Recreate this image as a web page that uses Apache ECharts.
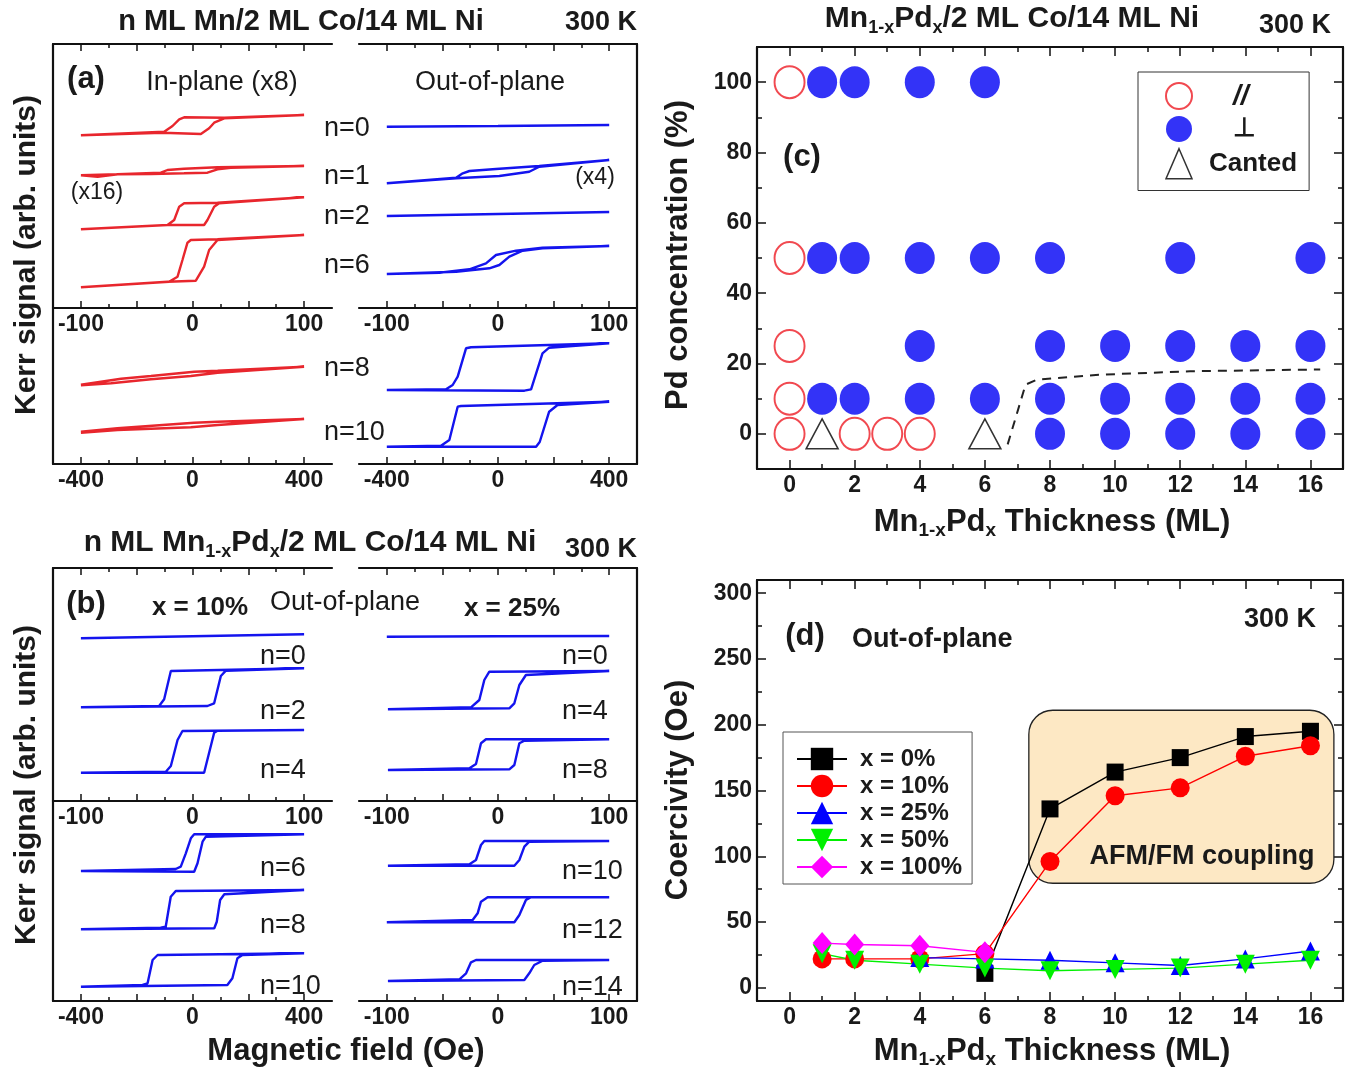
<!DOCTYPE html>
<html>
<head>
<meta charset="utf-8">
<title>Mn/Co/Ni MOKE</title>
<script src="https://cdn.jsdelivr.net/npm/echarts@6/dist/echarts.min.js"></script>
<style>
  html, body { margin: 0; padding: 0; background: #fff; }
  #main { width: 1359px; height: 1070px; }
</style>
</head>
<body>
<div id="main"></div>
<script>
// ---------- data ----------
// hysteresis loops: [field (Oe), Kerr signal (arb. units, stacked)]
// panel (a) in-plane, n ML Mn
var aIn0 = [[-100,172.7],[-26.9,175.3],[7.5,174],[14.9,179.7],[19.4,185.3],[28.4,189.7],[100,193],[28.4,190.3],[-7.5,190.7],[-11.9,188.7],[-17.9,182],[-25.4,176.3],[-100,172.7]];
var aIn1 = [[-100,132.7],[-85,131.3],[-67,133.7],[-37,134],[-7.5,134.7],[13.4,135.3],[22.4,138.7],[34.3,140.3],[100,142],[22.4,140.7],[-7.5,139.3],[-22.4,138],[-28.4,135.3],[-67,133.7],[-100,132.7]];
var aIn2 = [[-100,78.7],[-22.4,83],[10.4,83],[13.4,88],[19.4,101.3],[23.9,104.7],[100,110.7],[22.4,105.3],[-7.5,104.7],[-11.9,101.3],[-16.4,88],[-22.4,83],[-100,78.7]];
var aIn6 = [[-100,20.7],[-22.4,26.3],[3,27.3],[10.4,41.3],[14.9,58],[22.4,68],[100,73],[22.4,68.7],[-1.5,68],[-4.5,65.3],[-9,48],[-13.4,31.3],[-21,26.3],[-100,20.7]];
var aIn8 = [[-400,78.7],[-292,80.7],[-149,84.7],[-6,88],[90,91.3],[400,97.3],[90,93.3],[6,92.3],[-149,88],[-256,85.3],[-400,79.3]];
var aIn10 = [[-400,31.3],[-269,34],[-6,36.7],[90,39],[400,45],[90,42.3],[6,41.3],[-269,35.7],[-400,32.3]];
// panel (a) out-of-plane
var aOut0 = [[-100,181.3],[0,182],[100,183]];
var aOut1 = [[-100,124.7],[-37.7,129.7],[1.2,132],[28.1,136.3],[37.1,141.3],[100,148],[37.1,142],[-1.8,139],[-25.7,137],[-31.7,134.7],[-37.7,130.3],[-100,124.7]];
var aOut2 = [[-100,92],[0,94],[100,96]];
var aOut6 = [[-100,34],[-37.7,36.3],[-7.8,39.7],[1.2,43],[10.2,51.3],[22.2,57.3],[40.1,59.7],[100,62],[40,60.3],[16.2,57.3],[-1.8,53],[-10.8,44.7],[-25.7,38.7],[-52.7,35.3],[-100,34]];
var aOut8 = [[-400,74],[95,73.3],[119,74.7],[160,110.7],[184,116.3],[400,120.7],[-97,116.7],[-115,115.7],[-145,87.3],[-163,79],[-187,74.7],[-400,74]];
var aOut10 = [[-400,17.3],[137,17.3],[150,22],[184,52.3],[214,59],[400,62.3],[-133,58],[-145,57.3],[-175,24],[-205,18.3],[-400,17.3]];
// panel (b) x = 10 %
var b10n0 = [[-100,162.7],[0,164.7],[100,166.7]];
var b10n2 = [[-100,93.7],[13.4,95],[19.4,97.7],[25.4,125],[29.9,130.3],[100,132.7],[-19.4,130],[-25.4,101.7],[-29.9,95],[-100,93.7]];
var b10n4 = [[-100,28.3],[10.4,28.3],[19.4,68.3],[22.4,70.3],[100,71],[-9,70],[-13.4,61],[-19.4,35],[-23.9,29.3],[-100,28.3]];
var b10n6 = [[-400,130],[6,129.3],[18,137.7],[36,159.3],[48,164.3],[400,166.7],[6,166.7],[-6,162.7],[-24,147.7],[-42,134.3],[-60,132],[-400,130]];
var b10n8 = [[-400,71.7],[78,72.7],[87,79.3],[99,101],[114,106.7],[400,111],[-60,110],[-78,104.3],[-96,74.3],[-114,73.3],[-400,71.7]];
var b10n10 = [[-400,14.3],[125,16],[143,22.7],[161,42.7],[179,46],[400,47.7],[-125,46],[-143,41],[-161,17.7],[-179,16],[-400,14.3]];
// panel (b) x = 25 %
var b25n0 = [[-100,164.3],[0,164.7],[100,165]];
var b25n4 = [[-99,91.7],[10.2,92.7],[14.7,97.7],[19.2,116],[25.1,126],[100,130],[-7.8,129.3],[-12.3,121],[-16.8,101],[-24.3,93.7],[-99,91.7]];
var b25n8 = [[-99,31],[10.2,31.7],[14.7,36],[19.2,57.7],[23.7,60.3],[100,61.7],[-10.8,61.7],[-15.3,57.7],[-19.8,37],[-25.7,32.7],[-99,31]];
var b25n10 = [[-99,135.3],[14.7,135.3],[19.2,141],[23.7,154.3],[28.1,159.3],[100,160],[-12.3,160],[-15.3,156],[-19.8,141],[-25.7,136.7],[-99,135.3]];
var b25n12 = [[-100,78.7],[14.7,78.7],[19.2,86],[25.1,101],[29.6,103.7],[100,103.7],[-9.3,103.7],[-15.3,99.3],[-18.3,87.7],[-22.8,81],[-100,78.7]];
var b25n14 = [[-99,20],[23.7,21],[28.1,27.7],[32.6,36],[40.1,40.3],[100,41],[-19.8,41],[-24.3,38.7],[-28.7,27.7],[-34.7,21.7],[-99,20]];

// panel (c): [thickness (ML), Pd concentration (%)]
var cInPlane = [[0,100],[0,50],[0,25],[0,10],[0,0],[2,0],[3,0],[4,0]];
var cPerp = [[1,100],[2,100],[4,100],[6,100],
  [1,50],[2,50],[4,50],[6,50],[8,50],[12,50],[16,50],
  [4,25],[8,25],[10,25],[12,25],[14,25],[16,25],
  [1,10],[2,10],[4,10],[6,10],[8,10],[10,10],[12,10],[14,10],[16,10],
  [8,0],[10,0],[12,0],[14,0],[16,0]];
var cCanted = [[1,0],[6,0]];
var cBoundary = [[6.7,-3],[7.25,14],[7.6,15.4],[9.5,16.8],[12.3,17.8],[16.3,18.3]];

// panel (d): [thickness (ML), coercivity (Oe)]
var dX0 = [[6,11],[8,136],[10,164],[12,175],[14,191],[16,195]];
var dX10 = [[1,22],[2,22],[4,22],[6,26],[8,96],[10,146],[12,152],[14,176],[16,184]];
var dX25 = [[4,23],[6,22],[8,21],[10,19],[12,17],[14,22],[16,28]];
var dX50 = [[1,26],[2,21],[4,18],[6,15],[8,13],[10,14],[12,15],[14,18],[16,21]];
var dX100 = [[1,34],[2,33],[4,32],[6,27]];

// tick values
var t100Major = [-100,-50,0,50,100], t100Minor = [-75,-25,25,75], t100Lab = [-100,0,100];
var t400Major = [-400,-200,0,200,400], t400Minor = [-300,-100,100,300], t400Lab = [-400,0,400];
var thickMajor = [0,2,4,6,8,10,12,14,16], thickMinor = [1,3,5,7,9,11,13,15];
var pdMajor = [0,20,40,60,80,100], pdMinor = [10,30,50,70,90];
var hcMajor = [0,50,100,150,200,250,300], hcMinor = [25,75,125,175,225,275];

// ---------- layout helpers ----------
var NAR = '"Liberation Sans Narrow","Arial Narrow","Liberation Sans",Arial,sans-serif';
var SANS = '"Liberation Sans",Arial,Helvetica,sans-serif';
var INK = '#1a1a1a';
var RED = '#e8262d', BLUE = '#1414ee';

var grids = [], xAxes = [], yAxes = [], series = [];
var lineS = { color: '#111', width: 2.2 };
var labS = { fontFamily: NAR, fontWeight: 'bold', fontSize: 23, color: INK };

function tickAxis(g, pos, r, vals, len, labels, showLine) {
    return {
        type: 'value', gridIndex: g, position: pos, min: r[0], max: r[1],
        axisLine: { show: !!showLine, onZero: false, lineStyle: lineS },
        axisTick: { show: vals.length > 0, inside: true, length: len, customValues: vals,
                    lineStyle: { color: '#111', width: 1.5 } },
        axisLabel: Object.assign({ show: !!labels, customValues: labels || [], margin: 5 }, labS),
        splitLine: { show: false }
    };
}

function loopGrid(rect, xr, yr, major, minor, labels, side, topEdge) {
    var g = grids.length;
    grids.push({ left: rect[0], top: rect[1], width: rect[2], height: rect[3], outerBoundsMode: 'none' });
    var xi = xAxes.length;
    xAxes.push(tickAxis(g, 'bottom', xr, major, 7, labels, true));
    xAxes.push(tickAxis(g, 'bottom', xr, minor, 4, null, false));
    if (topEdge) {
        xAxes.push(tickAxis(g, 'top', xr, major, 7, null, true));
        xAxes.push(tickAxis(g, 'top', xr, minor, 4, null, false));
    }
    var yi = yAxes.length;
    yAxes.push(tickAxis(g, side, yr, [], 0, null, true));
    return { x: xi, y: yi };
}

function boxGrid(rect, xr, xMaj, xMin, yr, yMaj, yMin) {
    var g = grids.length;
    grids.push({ left: rect[0], top: rect[1], width: rect[2], height: rect[3], outerBoundsMode: 'none' });
    var xi = xAxes.length, yi = yAxes.length;
    xAxes.push(tickAxis(g, 'bottom', xr, xMaj, 9, xMaj, true));
    xAxes.push(tickAxis(g, 'bottom', xr, xMin, 5, null, false));
    xAxes.push(tickAxis(g, 'top', xr, xMaj, 9, null, true));
    xAxes.push(tickAxis(g, 'top', xr, xMin, 5, null, false));
    yAxes.push(tickAxis(g, 'left', yr, yMaj, 9, yMaj, true));
    yAxes.push(tickAxis(g, 'left', yr, yMin, 5, null, false));
    yAxes.push(tickAxis(g, 'right', yr, yMaj, 9, null, true));
    yAxes.push(tickAxis(g, 'right', yr, yMin, 5, null, false));
    return { x: xi, y: yi };
}

function loop(ax, data, color) {
    series.push({ type: 'line', xAxisIndex: ax.x, yAxisIndex: ax.y, data: data, symbol: 'none',
                  lineStyle: { color: color, width: 2.4 }, silent: true, z: 3 });
}

// ---------- panel (a) ----------
var r125 = [-125, 125], r500 = [-500, 500];
var gA1 = loopGrid([53, 44, 279, 264], r125, [0, 264], t100Major, t100Minor, t100Lab, 'left', true);
var gA2 = loopGrid([359, 44, 278, 264], r125, [0, 264], t100Major, t100Minor, t100Lab, 'right', true);
var gA3 = loopGrid([53, 308, 279, 156], r500, [0, 156], t400Major, t400Minor, t400Lab, 'left', false);
var gA4 = loopGrid([359, 308, 278, 156], r500, [0, 156], t400Major, t400Minor, t400Lab, 'right', false);
[aIn0, aIn1, aIn2, aIn6].forEach(function (d) { loop(gA1, d, RED); });
[aOut0, aOut1, aOut2, aOut6].forEach(function (d) { loop(gA2, d, BLUE); });
[aIn8, aIn10].forEach(function (d) { loop(gA3, d, RED); });
[aOut8, aOut10].forEach(function (d) { loop(gA4, d, BLUE); });

// ---------- panel (b) ----------
var gB1 = loopGrid([53, 568, 279, 233], r125, [0, 233], t100Major, t100Minor, t100Lab, 'left', true);
var gB2 = loopGrid([359, 568, 278, 233], r125, [0, 233], t100Major, t100Minor, t100Lab, 'right', true);
var gB3 = loopGrid([53, 801, 279, 200], r500, [0, 200], t400Major, t400Minor, t400Lab, 'left', false);
var gB4 = loopGrid([359, 801, 278, 200], r125, [0, 200], t100Major, t100Minor, t100Lab, 'right', false);
[b10n0, b10n2, b10n4].forEach(function (d) { loop(gB1, d, BLUE); });
[b25n0, b25n4, b25n8].forEach(function (d) { loop(gB2, d, BLUE); });
[b10n6, b10n8, b10n10].forEach(function (d) { loop(gB3, d, BLUE); });
[b25n10, b25n12, b25n14].forEach(function (d) { loop(gB4, d, BLUE); });

// ---------- panel (c) ----------
var gC = boxGrid([757, 47, 586, 422], [-1, 17], thickMajor, thickMinor, [-10, 110], pdMajor, pdMinor);
series.push({ name: '//', type: 'scatter', xAxisIndex: gC.x, yAxisIndex: gC.y, data: cInPlane,
    symbol: 'circle', symbolSize: [30, 32], itemStyle: { color: 'rgba(255,255,255,0)', borderColor: '#ee1c24', borderWidth: 2 } });
series.push({ name: '⊥', type: 'scatter', xAxisIndex: gC.x, yAxisIndex: gC.y, data: cPerp,
    symbol: 'circle', symbolSize: [30, 32], itemStyle: { color: '#0000f5' } });
series.push({ name: 'Canted', type: 'scatter', xAxisIndex: gC.x, yAxisIndex: gC.y, data: cCanted,
    symbol: 'triangle', symbolSize: [32, 30], itemStyle: { color: 'rgba(255,255,255,0)', borderColor: '#000', borderWidth: 1.5 } });
series.push({ name: 'boundary', type: 'line', xAxisIndex: gC.x, yAxisIndex: gC.y, data: cBoundary,
    symbol: 'none', lineStyle: { color: '#222', width: 2, type: [9, 7] }, silent: true });

// ---------- panel (d) ----------
var gD = boxGrid([757, 580, 586, 421], [-1, 17], thickMajor, thickMinor, [-10, 310], hcMajor, hcMinor);
function hcSeries(name, data, color, symbol, size, rot) {
    series.push({ name: name, type: 'line', xAxisIndex: gD.x, yAxisIndex: gD.y, data: data,
        symbol: symbol, symbolSize: size, symbolRotate: rot || 0, showAllSymbol: true,
        lineStyle: { color: color, width: 1.4 }, itemStyle: { color: color }, z: 4 });
}
hcSeries('x = 0%', dX0, '#000000', 'rect', 17);
hcSeries('x = 10%', dX10, '#ff0000', 'circle', 19);
hcSeries('x = 25%', dX25, '#0000ff', 'triangle', 19);
hcSeries('x = 50%', dX50, '#00f000', 'triangle', 19, 180);
hcSeries('x = 100%', dX100, '#ff00ff', 'diamond', [19, 22]);

// ---------- texts ----------
function txt(text, x, y, font, opt) {
    opt = opt || {};
    var st = { text: text, fill: INK, font: font, align: opt.align || 'center', verticalAlign: 'middle',
               textAlign: opt.align || 'center', textVerticalAlign: 'middle' };
    if (opt.rich) { st.rich = opt.rich; st.fontSize = opt.size; st.fontWeight = 'bold'; st.fontFamily = opt.family; delete st.font; }
    return { type: 'text', x: x, y: y, rotation: opt.rot || 0, z: 100, silent: true, style: st };
}
function subRich(size, family) {
    return {
        m: { fontSize: size, fontWeight: 'bold', fontFamily: family, lineHeight: size + 6, verticalAlign: 'middle' },
        s: { fontSize: Math.round(size * 0.6), fontWeight: 'bold', fontFamily: family, lineHeight: 12, verticalAlign: 'bottom' }
    };
}
var B29 = 'bold 29px ' + NAR, B26 = 'bold 26px ' + NAR, R27 = '27px ' + SANS, R23 = '23px ' + SANS;
var BIG = 'bold 31px ' + SANS;

var texts = [
    txt('n ML Mn/2 ML Co/14 ML Ni', 301, 22, B29),
    txt('300 K', 601, 23, 'bold 27px ' + NAR),
    txt('(a)', 86, 79, 'bold 31px ' + NAR),
    txt('In-plane (x8)', 222, 83, R27),
    txt('Out-of-plane', 490, 83, R27),
    txt('(x16)', 97, 193, R23),
    txt('(x4)', 595, 178, R23),
    txt('n=0', 324, 129, R27, { align: 'left' }),
    txt('n=1', 324, 177, R27, { align: 'left' }),
    txt('n=2', 324, 217, R27, { align: 'left' }),
    txt('n=6', 324, 266, R27, { align: 'left' }),
    txt('n=8', 324, 369, R27, { align: 'left' }),
    txt('n=10', 324, 433, R27, { align: 'left' }),

    txt('{m|n ML Mn}{s|1-x}{m|Pd}{s|x}{m|/2 ML Co/14 ML Ni}', 310, 543, null, { rich: subRich(30, NAR), size: 30, family: NAR }),
    txt('300 K', 601, 550, 'bold 27px ' + NAR),
    txt('(b)', 86, 604, 'bold 31px ' + NAR),
    txt('x = 10%', 200, 608, B26),
    txt('Out-of-plane', 345, 603, R27),
    txt('x = 25%', 512, 609, B26),
    txt('n=0', 260, 657, R27, { align: 'left' }),
    txt('n=2', 260, 712, R27, { align: 'left' }),
    txt('n=4', 260, 771, R27, { align: 'left' }),
    txt('n=6', 260, 869, R27, { align: 'left' }),
    txt('n=8', 260, 926, R27, { align: 'left' }),
    txt('n=10', 260, 987, R27, { align: 'left' }),
    txt('n=0', 562, 657, R27, { align: 'left' }),
    txt('n=4', 562, 712, R27, { align: 'left' }),
    txt('n=8', 562, 771, R27, { align: 'left' }),
    txt('n=10', 562, 872, R27, { align: 'left' }),
    txt('n=12', 562, 931, R27, { align: 'left' }),
    txt('n=14', 562, 988, R27, { align: 'left' }),

    txt('Kerr signal (arb. units)', 27, 255, 'bold 30px ' + SANS, { rot: Math.PI / 2 }),
    txt('Kerr signal (arb. units)', 27, 785, 'bold 30px ' + SANS, { rot: Math.PI / 2 }),
    txt('Magnetic field (Oe)', 346, 1051, BIG),

    txt('{m|Mn}{s|1-x}{m|Pd}{s|x}{m|/2 ML Co/14 ML Ni}', 1012, 19, null, { rich: subRich(30, NAR), size: 30, family: NAR }),
    txt('300 K', 1295, 26, 'bold 27px ' + NAR),
    txt('(c)', 802, 157, 'bold 31px ' + NAR),
    txt('Pd concentration (%)', 678, 255, BIG, { rot: Math.PI / 2 }),
    txt('{m|Mn}{s|1-x}{m|Pd}{s|x}{m| Thickness (ML)}', 1052, 522, null, { rich: subRich(31, SANS), size: 31, family: SANS }),

    txt('(d)', 805, 636, 'bold 31px ' + NAR),
    txt('Out-of-plane', 852, 640, 'bold 27px ' + NAR, { align: 'left' }),
    txt('300 K', 1280, 620, 'bold 27px ' + NAR),
    txt('Coercivity (Oe)', 678, 790, BIG, { rot: Math.PI / 2 }),
    txt('{m|Mn}{s|1-x}{m|Pd}{s|x}{m| Thickness (ML)}', 1052, 1051, null, { rich: subRich(31, SANS), size: 31, family: SANS }),
    txt('AFM/FM coupling', 1202, 857, 'bold 27px ' + NAR)
];

// AFM/FM coupling box, in data units of panel (d)
var couplingBox = { x: [7.35, 16.72], y: [79.5, 211] };

var option = {
    animation: false,
    backgroundColor: '#fff',
    grid: grids,
    xAxis: xAxes,
    yAxis: yAxes,
    legend: [
        {
            left: 1138, top: 72, orient: 'vertical', selectedMode: false,
            padding: [10, 12, 11, 27], itemGap: 6, itemWidth: 26, itemHeight: 30,
            borderColor: '#333', borderWidth: 1,
            textStyle: { color: INK, fontFamily: NAR, fontWeight: 'bold', fontSize: 26 },
            data: [
                { name: '//', itemStyle: { color: 'rgba(255,255,255,0)', borderColor: '#ee1c24', borderWidth: 2 },
                  textStyle: { fontStyle: 'italic', fontFamily: SANS, fontSize: 28, padding: [0, 0, 0, 36] } },
                { name: '⊥', textStyle: { fontFamily: SANS, fontSize: 26, padding: [0, 0, 0, 36] } },
                { name: 'Canted', itemStyle: { color: 'rgba(255,255,255,0)', borderColor: '#000', borderWidth: 1.5 },
                  textStyle: { padding: [0, 0, 0, 12] } }
            ]
        },
        {
            left: 783, top: 732, orient: 'vertical', selectedMode: false,
            padding: [15, 10, 5, 13], itemGap: 3, itemWidth: 50, itemHeight: 28,
            borderColor: '#555', borderWidth: 1,
            lineStyle: { width: 2 },
            textStyle: { color: INK, fontFamily: NAR, fontWeight: 'bold', fontSize: 24, padding: [0, 0, 0, 8] },
            data: ['x = 0%', 'x = 10%', 'x = 25%', 'x = 50%', 'x = 100%']
        }
    ],
    series: series
};

var chart = echarts.init(document.getElementById('main'), null, { renderer: 'canvas' });
chart.setOption(option);

var finder = { xAxisIndex: gD.x, yAxisIndex: gD.y };
var p0 = chart.convertToPixel(finder, [couplingBox.x[0], couplingBox.y[1]]);
var p1 = chart.convertToPixel(finder, [couplingBox.x[1], couplingBox.y[0]]);
texts.push({
    type: 'rect', z: 1, silent: true,
    shape: { x: p0[0], y: p0[1], width: p1[0] - p0[0], height: p1[1] - p0[1], r: 24 },
    style: { fill: '#fde8c4', stroke: '#222', lineWidth: 1.3 }
});
chart.setOption({ graphic: { elements: texts } });
</script>
</body>
</html>
